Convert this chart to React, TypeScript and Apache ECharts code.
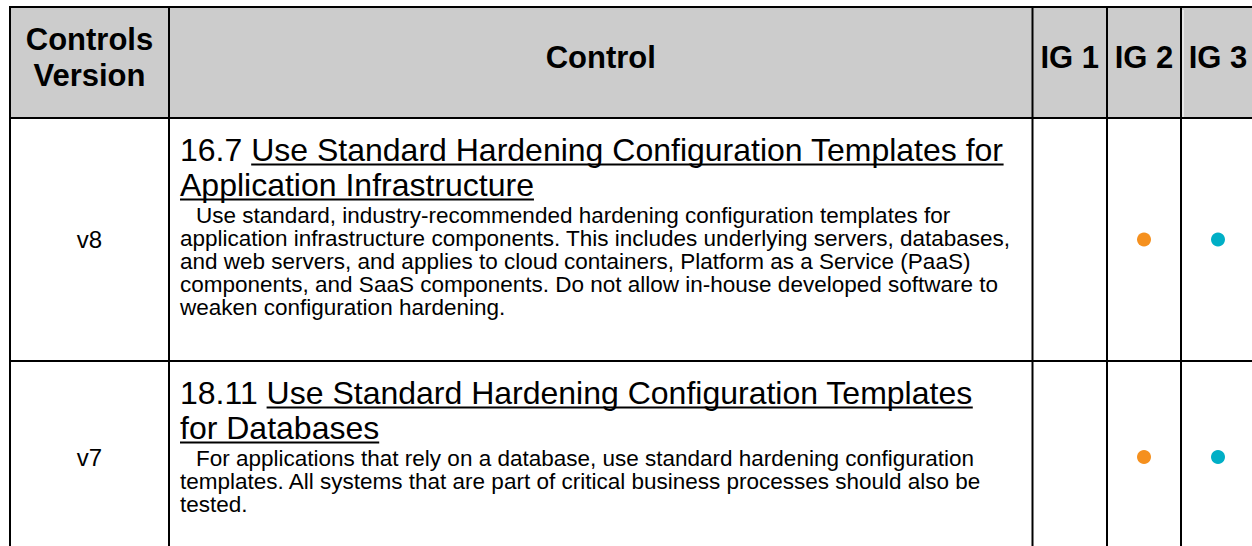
import React, { useEffect, useRef } from "react";
import * as echarts from "echarts";

const HEADER_LABELS = ["Controls\nVersion", "Control", "IG 1", "IG 2", "IG 3"];
const VERSIONS = ["v8", "v7"];
const CONTROL_IDS = ["16.7", "18.11"];
const TITLE_LINES = [
  ["Use Standard Hardening Configuration Templates for", "Application Infrastructure"],
  ["Use Standard Hardening Configuration Templates", "for Databases"],
];
const DESC_LINES = [
  [
    "Use standard, industry-recommended hardening configuration templates for",
    "application infrastructure components. This includes underlying servers, databases,",
    "and web servers, and applies to cloud containers, Platform as a Service (PaaS)",
    "components, and SaaS components. Do not allow in-house developed software to",
    "weaken configuration hardening.",
  ],
  [
    "For applications that rely on a database, use standard hardening configuration",
    "templates. All systems that are part of critical business processes should also be",
    "tested.",
  ],
];
const IG1 = [false, false];
const IG2 = [true, true];
const IG3 = [true, true];

const COL_X = [10, 169, 1032.5, 1107, 1181, 1255];
const ROW_Y = [7, 118, 361, 553];
const FONT = '"Liberation Sans", Arial, Helvetica, sans-serif';
const HEADER_BG = "#cccccc";
const ORANGE = "#f5901e";
const TEAL = "#00afc6";

function measure(text: string, font: string): number {
  const c = document.createElement("canvas").getContext("2d");
  if (!c) return text.length * 10;
  c.font = font;
  return c.measureText(text).width;
}

export default function App() {
  const ref = useRef<HTMLDivElement>(null);
  useEffect(() => {
    document.body.style.margin = "0";
    if (!ref.current) return;
    const chart = echarts.init(ref.current, null, { renderer: "svg" });
    const els: any[] = [];
    // header background
    els.push({
      type: "rect",
      shape: { x: COL_X[0], y: ROW_Y[0], width: COL_X[5] - COL_X[0], height: ROW_Y[1] - ROW_Y[0] },
      style: { fill: HEADER_BG },
    });
    // thin white highlight inside the last header cell
    els.push({
      type: "line",
      shape: { x1: COL_X[4] + 2, y1: ROW_Y[0] + 3, x2: COL_X[4] + 2, y2: ROW_Y[1] - 1 },
      style: { stroke: "#ffffff", lineWidth: 1 },
    });
    // header texts
    const hy = 57;
    HEADER_LABELS.forEach((lab, i) => {
      const cx = (COL_X[i] + COL_X[i + 1]) / 2;
      const lines = lab.split("\n");
      lines.forEach((ln, k) => {
        els.push({
          type: "text",
          x: cx,
          y: hy + (k - (lines.length - 1) / 2) * 36,
          style: {
            text: ln,
            font: `bold 31px ${FONT}`,
            fill: "#000",
            align: "center",
            verticalAlign: "middle",
          },
        });
      });
    });
    const titleFs = 32;
    const bodyFs = 22.5;
    const titleFont = `${titleFs}px ${FONT}`;
    VERSIONS.forEach((v, r) => {
      const top = ROW_Y[r + 1];
      const bottom = ROW_Y[r + 2];
      const cy = (top + bottom) / 2;
      els.push({
        type: "text",
        x: (COL_X[0] + COL_X[1]) / 2,
        y: cy,
        style: { text: v, font: `24px ${FONT}`, fill: "#000", align: "center", verticalAlign: "middle" },
      });
      const x0 = 180;
      const t1y = top + 32;
      const t2y = top + 67;
      const prefix = CONTROL_IDS[r] + " ";
      const pw = measure(prefix, titleFont);
      els.push({
        type: "text",
        x: x0,
        y: t1y,
        style: { text: prefix, font: titleFont, fill: "#000", align: "left", verticalAlign: "middle" },
      });
      TITLE_LINES[r].forEach((tl, k) => {
        const lx = k === 0 ? x0 + pw : x0;
        const ly = k === 0 ? t1y : t2y;
        const w = measure(tl, titleFont);
        els.push({
          type: "text",
          x: lx,
          y: ly,
          style: { text: tl, font: titleFont, fill: "#000", align: "left", verticalAlign: "middle" },
        });
        const uy = ly + titleFs * 0.3465 + 3.5;
        els.push({
          type: "line",
          shape: { x1: lx, y1: uy, x2: lx + w, y2: uy },
          style: { stroke: "#000", lineWidth: 2 },
        });
      });
      DESC_LINES[r].forEach((dl, k) => {
        els.push({
          type: "text",
          x: k === 0 ? x0 + 16 : x0,
          y: top + 97 + k * 23,
          style: { text: dl, font: `${bodyFs}px ${FONT}`, fill: "#000", align: "left", verticalAlign: "middle" },
        });
      });
      const flags = [IG1[r], IG2[r], IG3[r]];
      const colors = ["#4a90e2", ORANGE, TEAL];
      flags.forEach((f, j) => {
        if (!f) return;
        els.push({
          type: "circle",
          shape: { cx: (COL_X[j + 2] + COL_X[j + 3]) / 2, cy, r: 7 },
          style: { fill: colors[j] },
        });
      });
    });
    // grid lines
    ROW_Y.slice(0, 3).forEach((y) => {
      els.push({
        type: "line",
        shape: { x1: COL_X[0] - 1, y1: y, x2: COL_X[5] + 1, y2: y },
        style: { stroke: "#000", lineWidth: 2 },
      });
    });
    COL_X.forEach((x) => {
      els.push({
        type: "line",
        shape: { x1: x, y1: ROW_Y[0] - 1, x2: x, y2: ROW_Y[3] + 1 },
        style: { stroke: "#000", lineWidth: 2 },
      });
    });
    chart.setOption({
      animation: false,
      backgroundColor: "#ffffff",
      graphic: { elements: els },
    });
    return () => chart.dispose();
  }, []);
  return <div ref={ref} style={{ width: 1252, height: 546 }} />;
}
